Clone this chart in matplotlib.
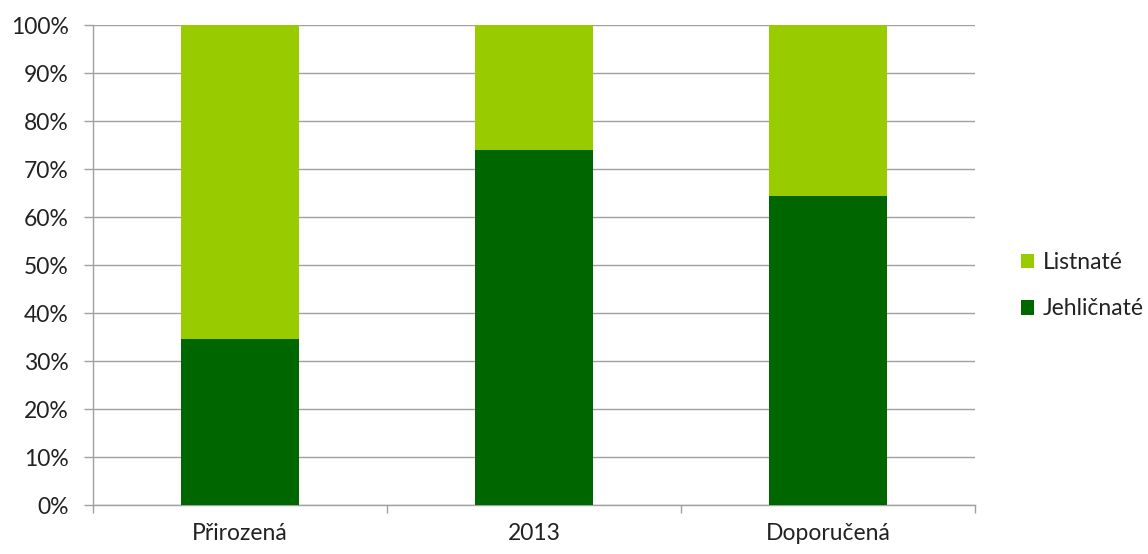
import matplotlib
matplotlib.use("Agg")
import matplotlib.pyplot as plt
from matplotlib.patches import Patch
from matplotlib.ticker import PercentFormatter, FixedLocator
import numpy as np

categories = ["Přirozená", "2013", "Doporučená"]
jehlicnate = [34.6, 74.0, 64.4]
listnate = [65.4, 26.0, 35.6]
series_names = ["Listnaté", "Jehličnaté"]
colors = {"Listnaté": "#99CC00", "Jehličnaté": "#006600"}

plt.rcParams['font.family'] = ['Lato', 'DejaVu Sans']
FS = 16.5

fig = plt.figure(figsize=(11.48, 5.54), dpi=100)
ax = fig.add_axes([93/1148, 49/554, (975-93)/1148, 480/554])

x = np.arange(len(categories))
ax.bar(x, jehlicnate, width=0.4, color=colors["Jehličnaté"], zorder=3)
ax.bar(x, listnate, width=0.4, bottom=jehlicnate, color=colors["Listnaté"], zorder=3)

ax.set_xlim(-0.5, len(categories) - 0.5)
ax.set_ylim(0, 100)
ax.set_yticks(np.arange(0, 101, 10))
ax.yaxis.set_major_formatter(PercentFormatter(decimals=0))
ax.set_xticks(x)
ax.set_xticklabels(categories)
ax.xaxis.set_minor_locator(FixedLocator(np.arange(-0.5, len(categories), 1.0)))
ax.tick_params(axis='x', which='major', length=0, pad=13, labelsize=FS, labelcolor='#222222')
ax.tick_params(axis='x', which='minor', length=6, color='#A0A0A0', width=1)
ax.tick_params(axis='y', length=6.5, color='#A0A0A0', width=1, pad=11, labelsize=FS, labelcolor='#222222')

ax.grid(axis='y', color='#A0A0A0', linewidth=1, zorder=0)
for s in ['top', 'right']:
    ax.spines[s].set_visible(False)
for s in ['left', 'bottom']:
    ax.spines[s].set_color('#A0A0A0')
    ax.spines[s].set_linewidth(1)

handles = [Patch(facecolor=colors[n], edgecolor='none', label=n) for n in series_names]
fig.legend(handles=handles, loc='center left', bbox_to_anchor=(1000/1148, 0.484),
           frameon=False, fontsize=FS, handlelength=0.6, handleheight=0.6,
           handletextpad=0.35, labelspacing=1.1, labelcolor='#222222')

fig.savefig("out.png", dpi=100)
